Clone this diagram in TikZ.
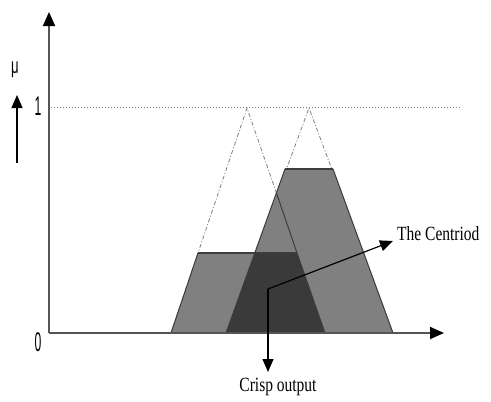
\documentclass[tikz,border=0pt]{standalone}
\usepackage{fontspec}
\setmainfont{Liberation Serif}
\newfontfamily\axfont{Liberation Sans}
\usetikzlibrary{arrows.meta}
\definecolor{axisgray}{RGB}{85,85,85}
\definecolor{midgray}{RGB}{128,128,128}
\definecolor{darkfill}{RGB}{58,58,58}
\definecolor{edgegray}{RGB}{60,60,60}
\begin{document}
\begin{tikzpicture}[x=1pt,y=-1pt,
  axisline/.style={draw=axisgray,line width=1.8pt,-{Triangle[length=14pt,width=12pt,color=black]}},
  thinarrow/.style={draw=black,line width=1.2pt,-{Triangle[length=13pt,width=11pt]}},
  fuzzyline/.style={draw=gray,line width=0.8pt,dash pattern=on 4pt off 2pt on 1pt off 2pt},
  edge/.style={draw=edgegray,line width=1pt},
  topedge/.style={draw=edgegray,line width=2pt},
  lbl/.style={font=\fontsize{15.5}{16}\selectfont,yscale=1.3,transform shape,inner sep=0pt},
  axlbl/.style={font=\axfont\fontsize{27}{27}\selectfont,xscale=0.45,transform shape,inner sep=0pt}]
\useasboundingbox (0,0) rectangle (491,402);
\fill[white] (0,0) rectangle (491,402);
% named points
\coordinate (O) at (49,333);
\coordinate (Ytip) at (49,12);
\coordinate (Xtip) at (444,333);
\coordinate (A1) at (247,108);
\coordinate (A2) at (309,108);
\coordinate (L1) at (171,333);
\coordinate (L2) at (198,253);
\coordinate (L3) at (297,253);
\coordinate (L4) at (325,333);
\coordinate (R1) at (226,333);
\coordinate (R2) at (285,169);
\coordinate (R3) at (333,169);
\coordinate (R4) at (393,333);
\coordinate (X) at (276.6,193.4);
\coordinate (C) at (268,289);
\coordinate (Ct) at (393,241);
\coordinate (Cb) at (268,372);
% dotted line at 1
\coordinate (D1) at (51,107);
\coordinate (D2) at (461,107);
\draw[gray,line width=1pt,dotted] (D1) -- (D2);
% fuzzy triangles
\draw[fuzzyline] (L1) -- (A1) -- (L4);
\draw[fuzzyline] (R1) -- (A2) -- (R4);
% trapezoid fills
\fill[midgray] (L1) -- (L2) -- (L3) -- (L4) -- cycle;
\fill[midgray] (R1) -- (R2) -- (R3) -- (R4) -- cycle;
\begin{scope}
\clip (L1) -- (L2) -- (L3) -- (L4) -- cycle;
\fill[darkfill] (R1) -- (R2) -- (R3) -- (R4) -- cycle;
\end{scope}
% edges
\draw[edge] (L1) -- (L2);
\draw[edge] (L3) -- (L4);
\draw[edge] (R1) -- (R2);
\draw[edge] (R3) -- (R4);
\draw[edge] (X) -- (L3);
\draw[topedge] (L2) -- (L3);
\draw[topedge] (R2) -- (R3);
% axes
\draw[axisline] (O) -- (Ytip);
\draw[axisline] (O) -- (Xtip);
% centroid arrows
\draw[thinarrow] (C) -- (Ct);
\draw[thinarrow] (C) -- (Cb);
% labels
\node[lbl,anchor=west] (tc) at (397,234) {The Centriod};
\node[lbl,anchor=center] (co) at (278,387) {Crisp output};
\node[axlbl] (one) at (38,106) {1};
\node[axlbl] (zero) at (38,342) {0};
\node[font=\axfont\fontsize{22}{22}\selectfont,xscale=0.6,transform shape,inner sep=0pt] (mu) at (15,70) {μ};
\coordinate (m1) at (17,163);
\coordinate (m2) at (17,95);
\draw[thinarrow] (m1) -- (m2);
\end{tikzpicture}
\end{document}
